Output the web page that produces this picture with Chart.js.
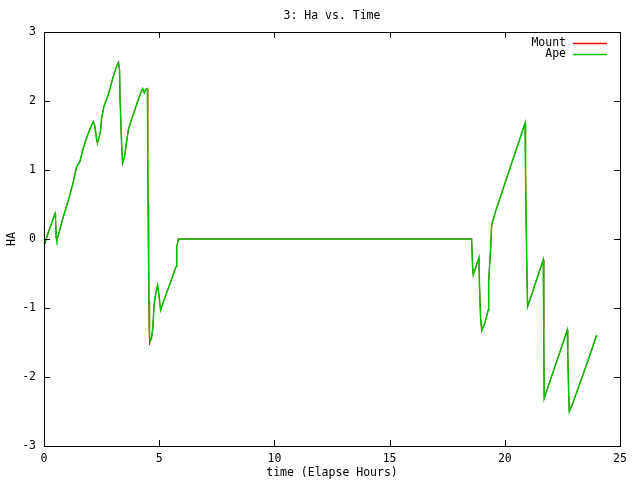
<!DOCTYPE html>
<html>
<head>
<meta charset="utf-8">
<title>3: Ha vs. Time</title>
<script src="https://cdn.jsdelivr.net/npm/chart.js@4/dist/chart.umd.min.js"></script>
<style>
  body { margin: 0; background: #fff; }
  canvas { display: block; }
</style>
</head>
<body>
<canvas id="haChart" width="640" height="480"></canvas>
<script>
// Chart data
const chartTitle = '3: Ha vs. Time';
const seriesNames = ['Mount', 'Ape'];
const seriesColors = ['#ff0000', '#00c000'];
const xTicks = [0, 5, 10, 15, 20, 25];
const yTicks = [-3, -2, -1, 0, 1, 2, 3];

// elapsed hours
const timeHours = [
  0.04, 0.15, 0.3, 0.48, 0.5, 0.53, 0.56, 0.62, 0.8, 1.0,
  1.1, 1.25, 1.42, 1.56, 1.65, 1.8, 2.0, 2.14, 2.2, 2.28,
  2.32, 2.45, 2.5, 2.6, 2.8, 3.0, 3.15, 3.23, 3.28, 3.3,
  3.36, 3.41, 3.5, 3.56, 3.66, 3.8, 4.0, 4.2, 4.28, 4.35,
  4.42, 4.49, 4.5, 4.52, 4.54, 4.56, 4.58, 4.62, 4.66, 4.72,
  4.78, 4.85, 4.93, 4.98, 5.06, 5.3, 5.5, 5.73, 5.76, 5.83,
  18.56, 18.6, 18.63, 18.75, 18.88, 18.9, 18.95, 19.0, 19.15, 19.28,
  19.3, 19.39, 19.43, 19.57, 19.8, 20.0, 20.3, 20.6, 20.88, 20.9,
  20.95, 20.99, 21.3, 21.67, 21.69, 21.71, 22.0, 22.4, 22.71, 22.73,
  22.77, 22.8, 22.95, 23.4, 23.8, 23.99
];

// hour angle of the ape
const apeHA = [
  -0.07, 0.05, 0.2, 0.37, 0.30, 0.02, -0.02, 0.05, 0.28, 0.5,
  0.61, 0.8, 1.05, 1.12, 1.25, 1.42, 1.6, 1.70, 1.65, 1.45,
  1.39, 1.55, 1.75, 1.92, 2.1, 2.35, 2.5, 2.56, 2.45, 2.05,
  1.45, 1.10, 1.2, 1.35, 1.58, 1.73, 1.93, 2.12, 2.18, 2.12,
  2.17, 2.18, 1.36, 0.5, -0.3, -0.9, -1.42, -1.47, -1.45, -1.3,
  -0.95, -0.79, -0.67, -0.79, -1.03, -0.80, -0.62, -0.40, -0.12, 0.0,
  0.0, -0.38, -0.52, -0.40, -0.27, -0.65, -1.15, -1.33, -1.2, -1.03,
  -0.6, -0.11, 0.20, 0.37, 0.60, 0.80, 1.10, 1.40, 1.68, 1.0,
  -0.3, -0.98, -0.67, -0.30, -1.3, -2.31, -2.02, -1.63, -1.32, -1.6,
  -2.2, -2.50, -2.38, -1.96, -1.58, -1.39
];

// hour angle of the mount (mostly hidden under the ape line)
const mountHA = [
  -0.07, 0.08, 0.2, 0.37, 0.30, 0.0, -0.02, 0.05, 0.28, 0.5,
  0.61, 0.8, 1.05, 1.12, 1.25, 1.42, 1.6, 1.70, 1.65, 1.45,
  1.39, 1.55, 1.75, 1.92, 2.1, 2.35, 2.5, 2.56, 2.45, 2.05,
  1.45, 1.10, 1.2, 1.35, 1.58, 1.73, 1.93, 2.12, 2.18, 2.12,
  2.17, 2.18, 1.26, 0.3, -0.6, -1.2, -1.53, -1.45, -1.45, -1.3,
  -0.95, -0.79, -0.67, -0.79, -1.03, -0.80, -0.62, -0.40, -0.12, 0.0,
  0.0, -0.38, -0.52, -0.40, -0.27, -0.65, -1.15, -1.33, -1.2, -1.03,
  -0.6, -0.11, 0.20, 0.37, 0.60, 0.80, 1.10, 1.40, 1.68, 1.0,
  -0.3, -0.98, -0.67, -0.30, -1.3, -2.31, -2.02, -1.63, -1.32, -1.6,
  -2.2, -2.50, -2.38, -1.96, -1.58, -1.39
];

const FONT = '"DejaVu Sans Mono", "Liberation Mono", monospace';
const FONT_SIZE = 11.5;

function toPoints(xs, ys) {
  return xs.map((t, i) => ({ x: t, y: ys[i] }));
}

// gnuplot look: box frame, inward ticks on every side, title and key drawn by hand
const gnuplotFrame = {
  id: 'gnuplotFrame',
  afterDraw(chart) {
    const { ctx, chartArea: a } = chart;
    const xs = chart.scales.x;
    const ys = chart.scales.y;
    const tick = 6;
    ctx.save();
    ctx.strokeStyle = '#000';
    ctx.lineWidth = 1;
    ctx.strokeRect(a.left + 0.5, a.top + 0.5, a.right - a.left, a.bottom - a.top);

    ctx.beginPath();
    xTicks.forEach(v => {
      const px = Math.round(xs.getPixelForValue(v)) + 0.5;
      ctx.moveTo(px, a.bottom);
      ctx.lineTo(px, a.bottom - tick);
      ctx.moveTo(px, a.top);
      ctx.lineTo(px, a.top + tick);
    });
    yTicks.forEach(v => {
      const py = Math.round(ys.getPixelForValue(v)) + 0.5;
      ctx.moveTo(a.left, py);
      ctx.lineTo(a.left + tick, py);
      ctx.moveTo(a.right, py);
      ctx.lineTo(a.right - tick, py);
    });
    ctx.stroke();

    // title
    ctx.fillStyle = '#000';
    ctx.font = FONT_SIZE + 'px ' + FONT;
    ctx.textAlign = 'center';
    ctx.textBaseline = 'middle';
    ctx.fillText(chartTitle, (a.left + a.right) / 2, 16);

    // key, top right inside the plot
    chart.data.datasets.forEach((ds, i) => {
      const y = 43 + i * 11;
      ctx.textAlign = 'right';
      ctx.fillStyle = '#000';
      ctx.fillText(ds.label, a.right - 54, y);
      ctx.strokeStyle = ds.borderColor;
      ctx.lineWidth = 1.5;
      ctx.beginPath();
      ctx.moveTo(a.right - 47, y + 0.5);
      ctx.lineTo(a.right - 13, y + 0.5);
      ctx.stroke();
    });
    ctx.restore();
  }
};

const ctx = document.getElementById('haChart').getContext('2d');
const haChart = new Chart(ctx, {
  type: 'line',
  data: {
    datasets: [
      {
        label: seriesNames[0],
        data: toPoints(timeHours, mountHA),
        borderColor: seriesColors[0],
        borderWidth: 1,
        pointRadius: 0,
        tension: 0,
        fill: false,
        order: 1
      },
      {
        label: seriesNames[1],
        data: toPoints(timeHours, apeHA),
        borderColor: seriesColors[1],
        borderWidth: 1.5,
        pointRadius: 0,
        tension: 0,
        fill: false,
        order: 0
      }
    ]
  },
  options: {
    responsive: false,
    animation: false,
    layout: { padding: { top: 32, right: 20, left: 0, bottom: 0 } },
    plugins: {
      legend: { display: false },
      tooltip: { enabled: false },
      title: { display: false }
    },
    scales: {
      x: {
        type: 'linear',
        min: 0,
        max: 25,
        afterFit(scale) { scale.height = 34; },
        afterBuildTicks(scale) { scale.ticks = xTicks.map(v => ({ value: v })); },
        grid: { display: false, drawTicks: false },
        border: { display: false },
        ticks: {
          color: '#000',
          padding: 6,
          maxRotation: 0,
          font: { family: FONT, size: FONT_SIZE }
        },
        title: {
          display: true,
          text: 'time (Elapse Hours)',
          color: '#000',
          padding: { top: 0, bottom: 0 },
          font: { family: FONT, size: FONT_SIZE }
        }
      },
      y: {
        type: 'linear',
        min: -3,
        max: 3,
        afterFit(scale) { scale.width = 44; },
        afterBuildTicks(scale) { scale.ticks = yTicks.map(v => ({ value: v })); },
        grid: { display: false, drawTicks: false },
        border: { display: false },
        ticks: {
          color: '#000',
          padding: 8,
          font: { family: FONT, size: FONT_SIZE }
        },
        title: {
          display: true,
          text: 'HA',
          color: '#000',
          padding: { top: 5, bottom: 4 },
          font: { family: FONT, size: FONT_SIZE }
        }
      }
    }
  },
  plugins: [gnuplotFrame]
});
</script>
</body>
</html>
